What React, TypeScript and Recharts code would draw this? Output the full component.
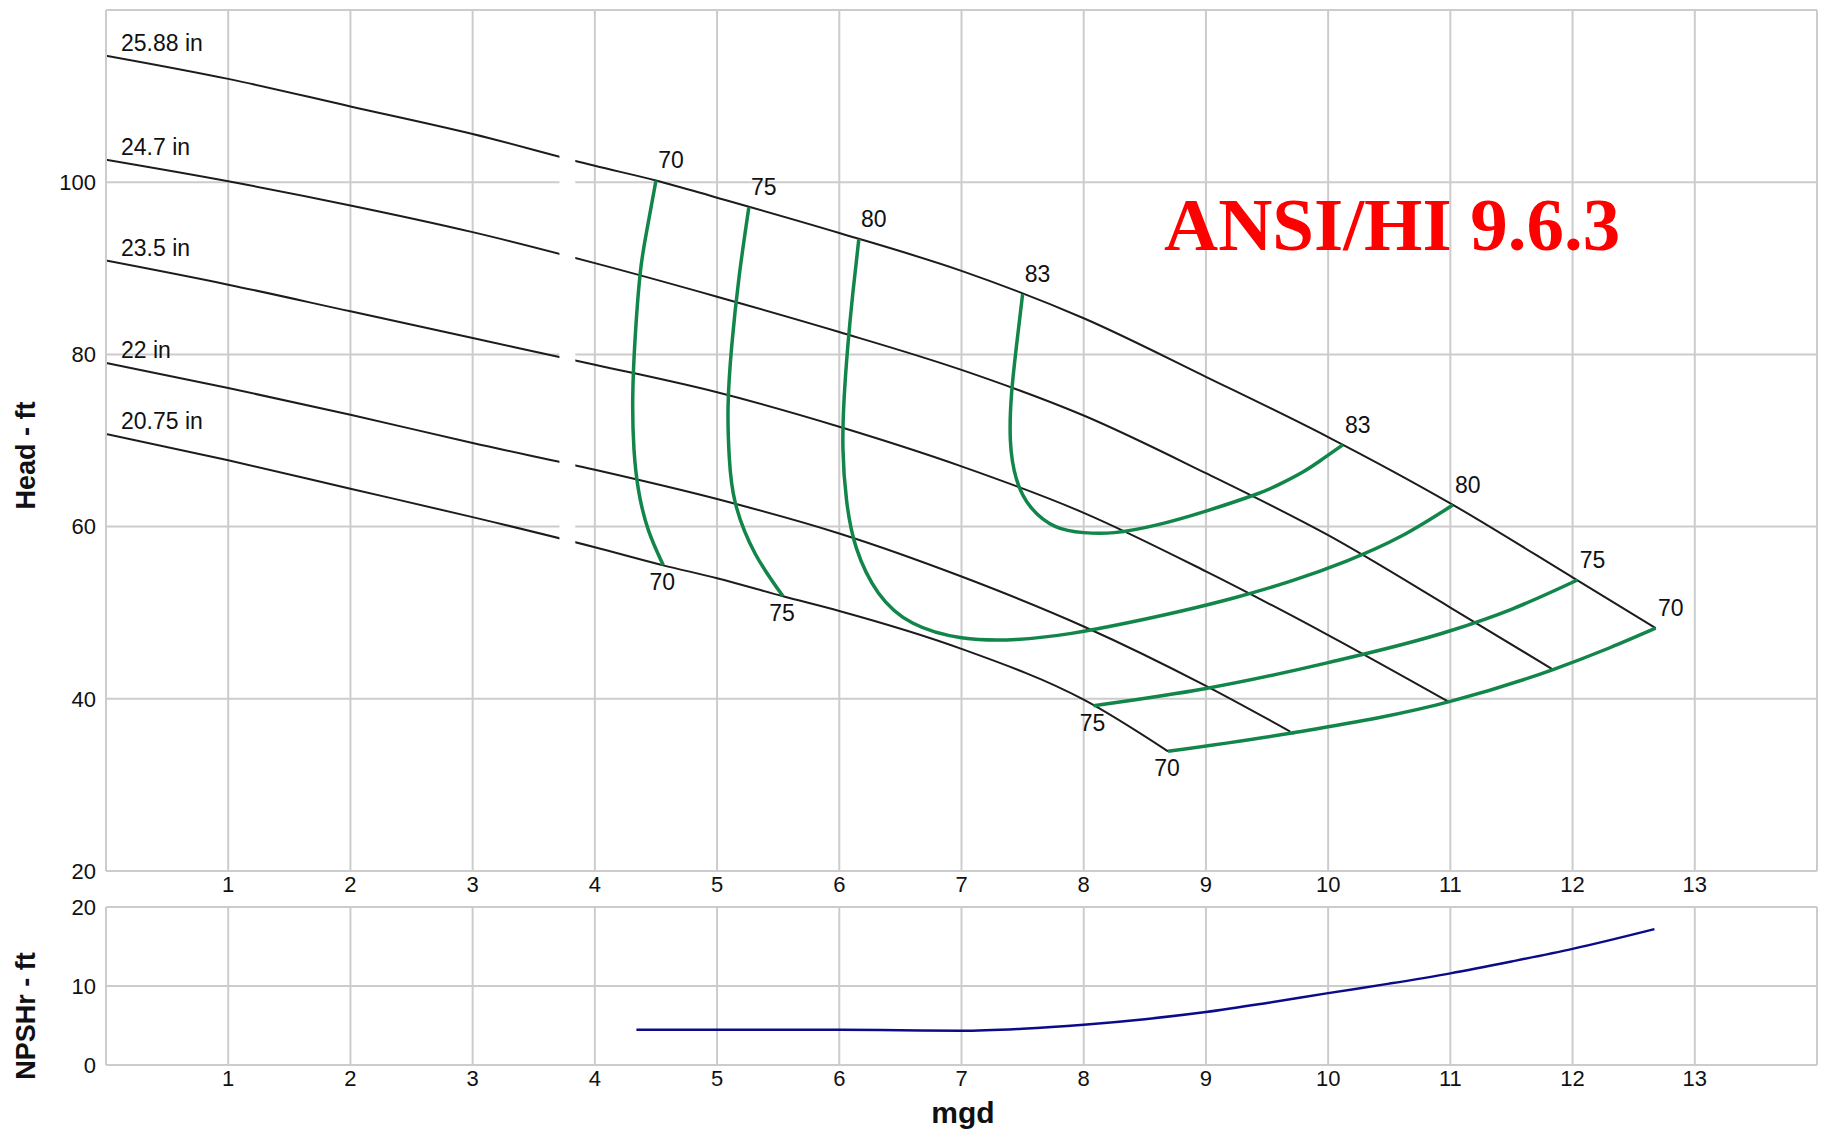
import React from 'react';
import { ComposedChart, Line, XAxis, YAxis, CartesianGrid, ReferenceArea } from 'recharts';

// ---------- data (flow in mgd, head / NPSHr in ft) ----------
const xTicks = [1, 2, 3, 4, 5, 6, 7, 8, 9, 10, 11, 12, 13];
const headTicks = [20, 40, 60, 80, 100];
const npshTicks = [0, 10, 20];

const diameterLabels = ['25.88 in', '24.7 in', '23.5 in', '22 in', '20.75 in'];

const head2588: number[][] = [[0, 114.7], [1, 112.0], [2, 108.8], [3, 105.6], [4, 101.9], [4.5, 100.2], [5, 98.2], [6, 94.1], [7, 89.7], [8, 84.2], [9, 77.4], [10, 70.4], [11, 62.7], [12, 54.1], [12.68, 48.2]];
const head247: number[][] = [[0, 102.6], [1, 100.1], [2, 97.3], [3, 94.2], [4, 90.6], [5, 86.7], [6, 82.6], [7, 78.2], [8, 72.9], [9, 66.2], [10, 59.0], [11, 50.6], [11.84, 43.4]];
const head235: number[][] = [[0, 90.9], [1, 88.1], [2, 85.0], [3, 81.9], [4, 78.8], [5, 75.6], [6, 71.6], [7, 67.0], [8, 61.6], [9, 54.8], [10, 47.4], [10.98, 39.7]];
const head22: number[][] = [[0, 79.0], [1, 76.1], [2, 73.0], [3, 69.7], [4, 66.6], [5, 63.2], [6, 59.2], [7, 54.2], [8, 48.4], [9, 41.5], [9.69, 36.2]];
const head2075: number[][] = [[0, 70.75], [1, 67.7], [2, 64.4], [3, 61.1], [4, 57.6], [4.56, 55.5], [5, 54.0], [5.54, 51.9], [6, 50.2], [7, 45.8], [8, 39.9], [8.69, 33.9]];

const effLabels = ['70', '75', '80', '83', '75', '70'];
const eff70L: number[][] = [[4.50, 100.2], [4.42, 94], [4.37, 89.3], [4.33, 82], [4.31, 75], [4.32, 69], [4.36, 64], [4.44, 59.5], [4.56, 55.5]];
const eff75L: number[][] = [[5.26, 97.1], [5.18, 89], [5.12, 81], [5.09, 74], [5.10, 68], [5.15, 62.7], [5.31, 56.9], [5.54, 51.9]];
const eff80: number[][] = [[6.16, 93.4], [6.11, 87], [6.07, 81], [6.04, 75], [6.03, 69], [6.06, 63], [6.14, 57.5], [6.32, 52.3], [6.6, 48.8], [7.0, 47.1], [7.45, 46.9], [7.9, 47.6], [8.35, 48.8], [8.8, 50.2], [9.25, 51.8], [9.7, 53.7], [10.15, 56.0], [10.6, 58.9], [11.02, 62.5]];
const eff83: number[][] = [[7.50, 87.0], [7.45, 81], [7.41, 75.5], [7.40, 70], [7.45, 65.5], [7.57, 62.2], [7.77, 60.0], [8.0, 59.3], [8.25, 59.3], [8.6, 60.2], [9.0, 61.8], [9.4, 63.7], [9.6, 64.9], [9.8, 66.4], [9.95, 67.8], [10.12, 69.5]];
const eff75R: number[][] = [[8.08, 39.2], [9.0, 41.2], [10.0, 44.2], [11.0, 47.9], [11.5, 50.4], [12.04, 53.8]];
const eff70R: number[][] = [[8.69, 33.9], [9.69, 36.0], [11.0, 39.7], [11.84, 43.4], [12.3, 45.9], [12.68, 48.2]];

const npsh: number[][] = [[4.34, 4.45], [5, 4.45], [6, 4.45], [6.5, 4.4], [7, 4.35], [7.5, 4.6], [8, 5.1], [8.5, 5.8], [9, 6.7], [9.5, 7.85], [10, 9.1], [10.5, 10.3], [11, 11.6], [11.5, 13.1], [12, 14.7], [12.67, 17.2]];

// break in the head curves of the source picture (mgd range, ft range)
const gapX = [3.71, 3.84];
const gapY = [55.2, 106];

// ---------- styling ----------
const FONT = '"Liberation Sans", Arial, Helvetica, sans-serif';
const GRID = '#cccccc';
const BLACK = '#1c1c1c';
const GREEN = '#12864a';
const NAVY = '#0b0b8a';

const toPts = (arr: number[][]) => arr.map(([x, y]) => ({ x, y }));

const headCurves = [head2588, head247, head235, head22, head2075].map((a, i) => ({ pts: toPts(a), label: diameterLabels[i] }));

// label placement for each efficiency segment: start / end, and curve type
const effPlacement: string[][] = [['above', 'below'], ['above', 'below'], ['above', 'above'], ['above', 'above'], ['below', 'above'], ['below', 'above']];
const effTypes: any[] = ['natural', 'natural', 'natural', 'natural', 'monotone', 'monotone'];
const effCurves = [eff70L, eff75L, eff80, eff83, eff75R, eff70R].map((a, i) => ({ pts: toPts(a), label: effLabels[i], place: effPlacement[i], type: effTypes[i] }));

const getXY = (p: any) => {
  const vb = p.viewBox || {};
  const x = p.x != null ? p.x : vb.x;
  const y = p.y != null ? p.y : vb.y;
  return [Number(x), Number(y)];
};

const diamLabel = (text: string) => (p: any) => {
  if (p.index !== 0) return null;
  const [x, y] = getXY(p);
  return (
    <text x={x + 15} y={y - 5} fontSize={23} fontFamily={FONT} fill="#111" textAnchor="start">{text}</text>
  );
};

const effLabel = (text: string, place: string[], last: number) => (p: any) => {
  if (p.index !== 0 && p.index !== last) return null;
  const [x, y] = getXY(p);
  const pos = p.index === 0 ? place[0] : place[1];
  const dx = pos === 'above' ? 15 : -1;
  const dy = pos === 'above' ? -20 : 17;
  return (
    <text x={x + dx} y={y + dy} fontSize={23} fontFamily={FONT} fill="#111" textAnchor="middle" dominantBaseline="central">{text}</text>
  );
};

const tickStyle = { fontSize: 22, fill: '#111', fontFamily: FONT };
const axisLineStyle = { stroke: GRID, strokeWidth: 2 };

const yTitle = (text: string, shift: number) => (p: any) => {
  const vb = p.viewBox || {};
  const cx = (vb.x || 0) + 26;
  const cy = (vb.y || 0) + (vb.height || 0) / 2 + shift;
  return (
    <text x={cx} y={cy} transform={`rotate(-90 ${cx} ${cy})`} fontSize={27} fontWeight="bold" fontFamily={FONT} fill="#111" textAnchor="middle" dominantBaseline="central">{text}</text>
  );
};

const xTitle = (text: string) => (p: any) => {
  const vb = p.viewBox || {};
  const cx = 963;
  const cy = (vb.y || 0) + 58;
  return (
    <text x={cx} y={cy} fontSize={30} fontWeight="bold" fontFamily={FONT} fill="#111" textAnchor="middle">{text}</text>
  );
};

export default function App() {
  return (
    <div style={{ position: 'absolute', left: 0, top: 0, width: 1821, height: 1130, background: '#ffffff', overflow: 'hidden' }}>
      <div style={{ position: 'absolute', left: 0, top: 0 }}>
        <ComposedChart width={1821} height={905} margin={{ top: 10, right: 4, left: 0, bottom: 0 }}>
          <CartesianGrid stroke={GRID} strokeWidth={2} />
          <XAxis type="number" dataKey="x" domain={[0, 14]} ticks={xTicks} interval={0} allowDataOverflow
            height={34} tickSize={0} tickMargin={5} tickLine={false} axisLine={axisLineStyle} tick={tickStyle} />
          <YAxis type="number" dataKey="y" domain={[20, 120]} ticks={headTicks} interval={0} allowDataOverflow
            width={106} tickSize={0} tickMargin={10} tickLine={false} axisLine={axisLineStyle} tick={tickStyle}
            label={yTitle('Head - ft', 15)} />
          {headCurves.map((c, i) => (
            <Line key={'h' + i} data={c.pts} dataKey="y" type="monotone" stroke={BLACK} strokeWidth={2}
              dot={false} activeDot={false} isAnimationActive={false} label={diamLabel(c.label)} />
          ))}
          {effCurves.map((c, i) => (
            <Line key={'e' + i} data={c.pts} dataKey="y" type={c.type} stroke={GREEN} strokeWidth={3.5}
              dot={false} activeDot={false} isAnimationActive={false} label={effLabel(c.label, c.place, c.pts.length - 1)} />
          ))}
          <ReferenceArea x1={gapX[0]} x2={gapX[1]} y1={gapY[0]} y2={gapY[1]} fill="#ffffff" fillOpacity={1} stroke="none" zIndex={450} />
        </ComposedChart>
      </div>
      <div style={{ position: 'absolute', left: 0, top: 895 }}>
        <ComposedChart width={1821} height={235} margin={{ top: 12, right: 4, left: 0, bottom: 0 }}>
          <CartesianGrid stroke={GRID} strokeWidth={2} />
          <XAxis type="number" dataKey="x" domain={[0, 14]} ticks={xTicks} interval={0} allowDataOverflow
            height={65} tickSize={0} tickMargin={5} tickLine={false} axisLine={axisLineStyle} tick={tickStyle}
            label={xTitle('mgd')} />
          <YAxis type="number" dataKey="y" domain={[0, 20]} ticks={npshTicks} interval={0} allowDataOverflow
            width={106} tickSize={0} tickMargin={10} tickLine={false} axisLine={axisLineStyle} tick={tickStyle}
            label={yTitle('NPSHr - ft', 30)} />
          <Line data={toPts(npsh)} dataKey="y" type="monotone" stroke={NAVY} strokeWidth={2.5}
            dot={false} activeDot={false} isAnimationActive={false} />
        </ComposedChart>
      </div>
      <svg width={1821} height={1130} style={{ position: 'absolute', left: 0, top: 0, pointerEvents: 'none' }}>
        <text x={1164} y={250} fontSize={75} fontWeight="bold" fontFamily='"Liberation Serif", "Times New Roman", serif' fill="#ff0000">ANSI/HI 9.6.3</text>
      </svg>
    </div>
  );
}
